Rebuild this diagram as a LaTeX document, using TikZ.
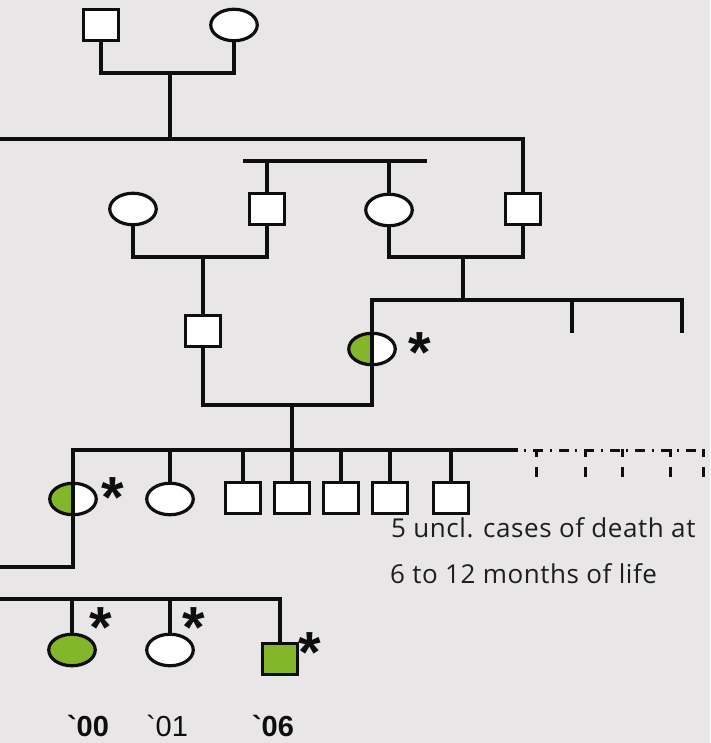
\documentclass[tikz,border=0pt]{standalone}
\usepackage{fontspec}
\setmainfont{Liberation Sans}
\newfontfamily\notefont{Open Sans}[LetterSpace=2.2]
\newfontfamily\yrfont{Liberation Sans}[Ligatures=TeXOff]
\usetikzlibrary{shapes.geometric}
\definecolor{bg}{RGB}{232,230,231}
\definecolor{aff}{RGB}{132,182,43}
\definecolor{ink}{RGB}{14,14,14}
\definecolor{notec}{RGB}{30,30,30}
\begin{document}
\begin{tikzpicture}[x=1pt,y=-1pt,
  male/.style={draw=ink, fill=white, rectangle, minimum width=34.5pt, minimum height=30.5pt, inner sep=0pt, line width=3.2pt},
  female/.style={draw=ink, fill=white, ellipse, minimum width=46.5pt, minimum height=31.5pt, inner sep=0pt, line width=3.2pt},
  halfaff/.style={path picture={\fill[aff] (path picture bounding box.south west) rectangle (path picture bounding box.north);}},
  link/.style={draw=ink, line width=3.2pt},
  dashlink/.style={draw=ink, line width=3pt},
  astx/.style={font=\fontsize{58}{58}\selectfont\bfseries, inner sep=0pt, anchor=north, text=ink},
  year/.style={font=\yrfont\fontsize{29}{29}\selectfont, anchor=base, inner sep=0pt, text=ink},
  yearb/.style={year, font=\yrfont\fontsize{29}{29}\selectfont\bfseries},
  note/.style={font=\notefont\fontsize{26}{26}\selectfont, anchor=base west, inner sep=0pt, text=notec}
]
\fill[bg] (0,0) rectangle (710,743);
\useasboundingbox (0,0) rectangle (710,743);

% generation 1
\node[male] (s1) at (101,25) {};
\node[female] (o1) at (234,25) {};
\coordinate (m1) at (170,73);
\draw[link] (s1.south) |- (m1) -| (o1.south);
\coordinate (g1l) at (0,139);
\node[male] (s4) at (523,209) {};
\draw[link] (m1) -- (m1 |- g1l);
\draw[link] (g1l) -| (s4.north);

% generation 2
\node[female] (o2) at (133,209) {};
\node[male] (s2) at (267,209) {};
\node[female] (o3) at (389,210) {};
\coordinate (sb2l) at (243,161);
\coordinate (sb2r) at (427,161);
\draw[link] (sb2l) -- (sb2r);
\draw[link] (s2.north |- sb2l) -- (s2.north);
\draw[link] (o3.north |- sb2l) -- (o3.north);
\coordinate (m2) at (203,257);
\draw[link] (o2.south) |- (m2) -| (s2.south);
\node[male] (s3) at (203,331) {};
\draw[link] (m2) -- (s3.north);
\coordinate (m3) at (463,257);
\draw[link] (o3.south) |- (m3) -| (s4.south);
\coordinate (sb3r) at (682,300);
\coordinate (t1) at (572,300);
\draw[link] (m3) -- (m3 |- sb3r);
\node[female, halfaff] (h1) at (372,349) {};
\draw[link] (h1.north) |- (sb3r) -- ++(0,33);
\draw[link] (t1) -- ++(0,33);
\draw[link] (h1.north) -- (h1.south);
\node[astx] (a1) at (420,332) {*};

% generation 3 couple
\coordinate (m4) at (292,405);
\draw[link] (s3.south) |- (m4) -| (h1.south);

% generation 4
\coordinate (sb4l) at (73,450);
\coordinate (sb4e) at (518,450);
\coordinate (sb4z) at (710,450);
\draw[link] (m4) -- (m4 |- sb4l);
\node[female, halfaff] (h2) at (73,499) {};
\node[female] (o4) at (170,499) {};
\node[male] (s6) at (243,498) {};
\node[male] (s7) at (292,498) {};
\node[male] (s8) at (341,498) {};
\node[male] (s9) at (390,498) {};
\node[male] (s10) at (451,498) {};
\draw[link] (h2.north) |- (sb4e);
\foreach \n in {o4,s6,s7,s8,s9,s10} \draw[link] (\n.north) -- (\n.north |- sb4l);
\draw[link] (h2.north) -- (h2.south);
\draw[dashlink, dash pattern=on 0pt off 6pt on 2pt off 7pt on 10pt off 7pt on 2pt off 7pt on 10pt off 0pt] (sb4e) -- (sb4z);
\foreach \x in {536,585,622,670,703} \draw[dashlink, dash pattern=on 8pt off 10pt on 10pt off 10pt] (\x,449) -- ++(0,29);
\node[astx] (a2) at (113,477) {*};
\coordinate (m5) at (0,567);
\draw[link] (h2.south) |- (m5);

\node[note] (n1) at (391,537) {5 uncl. cases of death at};
\node[note] (n2) at (390,583) {6 to 12 months of life};

% generation 5
\coordinate (sb5l) at (0,599);
\node[female, fill=aff] (o5) at (72,650) {};
\node[female] (o6) at (170,650) {};
\node[male, fill=aff] (s5) at (280,659) {};
\draw[link] (sb5l) -| (s5.north);
\draw[link] (o5.north) -- (o5.north |- sb5l);
\draw[link] (o6.north) -- (o6.north |- sb5l);
\node[astx] (a3) at (101,607) {*};
\node[astx] (a4) at (194,607) {*};
\node[astx] (a5) at (310,632) {*};

\node[yearb] (y1) at (88,736) {`00};
\node[year] (y2) at (167,736) {`01};
\node[yearb] (y3) at (273,736) {`06};
\end{tikzpicture}
\end{document}
